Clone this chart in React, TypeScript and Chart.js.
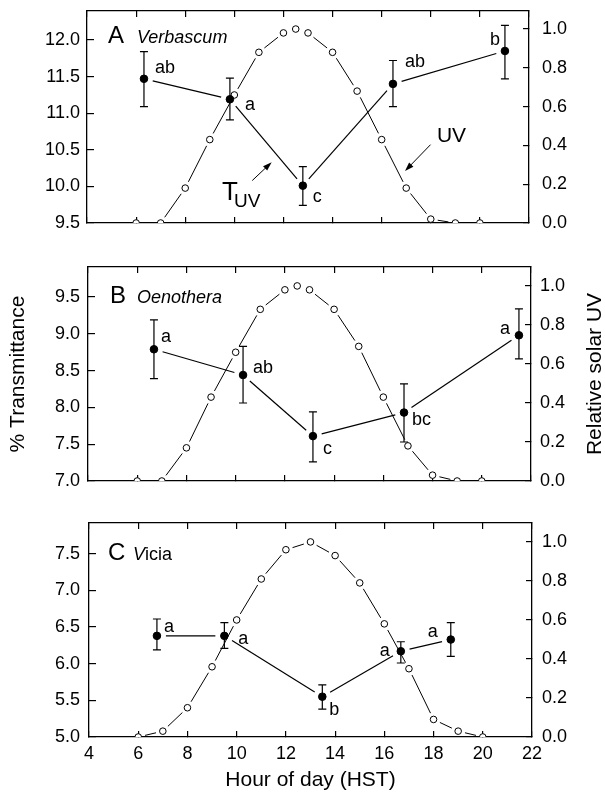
import React, { useEffect, useRef } from 'react';
import { Chart, registerables } from 'chart.js';

Chart.register(...registerables);

const FONT = "'Liberation Sans', Arial, Helvetica, sans-serif";

// ---------- tick labels ----------
const xTicks = [4, 6, 8, 10, 12, 14, 16, 18, 20, 22];
const uvTicks = [0, 0.2, 0.4, 0.6, 0.8, 1.0];
const yTicksA = [9.5, 10, 10.5, 11, 11.5, 12];
const yTicksB = [7, 7.5, 8, 8.5, 9, 9.5];
const yTicksC = [5, 5.5, 6, 6.5, 7, 7.5];

// ---------- Panel A: Verbascum ----------
const uvHoursA = [6, 7, 8, 9, 10, 11, 12, 12.5, 13, 14, 15, 16, 17, 18, 19, 20];
const uvA = [0, 0, 0.18, 0.43, 0.66, 0.88, 0.98, 1.0, 0.98, 0.88, 0.68, 0.43, 0.18, 0.02, 0, 0];
const tHoursA = [6.32, 9.82, 12.79, 16.46, 21.02];
const tA = [11.47, 11.19, 10.01, 11.4, 11.85];
const tHiA = [11.84, 11.48, 10.27, 11.72, 12.2];
const tLoA = [11.09, 10.91, 9.74, 11.09, 11.47];
const lettersA = ['ab', 'a', 'c', 'ab', 'b'];

// ---------- Panel B: Oenothera ----------
const uvHoursB = [6, 7, 8, 9, 10, 11, 12, 12.5, 13, 14, 15, 16, 17, 18, 19, 20];
const uvB = [0, 0, 0.17, 0.43, 0.66, 0.88, 0.98, 1.0, 0.98, 0.88, 0.69, 0.43, 0.18, 0.03, 0, 0];
const tHoursB = [6.68, 10.3, 13.14, 16.84, 21.51];
const tB = [8.79, 8.44, 7.61, 7.93, 8.98];
const tHiB = [9.19, 8.83, 7.94, 8.32, 9.34];
const tLoB = [8.39, 8.06, 7.26, 7.53, 8.66];
const lettersB = ['a', 'ab', 'c', 'bc', 'a'];

// ---------- Panel C: Vicia ----------
const uvHoursC = [6, 7, 8, 9, 10, 11, 12, 13, 14, 15, 16, 17, 18, 19, 20];
const uvC = [0, 0.03, 0.15, 0.36, 0.6, 0.81, 0.96, 1.0, 0.93, 0.79, 0.58, 0.35, 0.09, 0.03, 0];
const tHoursC = [6.76, 9.5, 13.48, 16.67, 18.7];
const tC = [6.38, 6.38, 5.55, 6.17, 6.33];
const tHiC = [6.61, 6.56, 5.71, 6.3, 6.56];
const tLoC = [6.19, 6.21, 5.38, 6.01, 6.1];
const lettersC = ['a', 'a', 'b', 'a', 'a'];

type Align = 'left' | 'right';

interface PanelCfg {
  canvasTop: number;
  canvasH: number;
  area: { left: number; right: number; top: number; bottom: number };
  yMin: number;
  yMax: number;
  y2Max: number;
  yTicks: number[];
  uvHours: number[];
  uv: number[];
  tHours: number[];
  t: number[];
  tHi: number[];
  tLo: number[];
  letters: string[];
  letterPos: [number, number, Align][];
  panelLetter: string;
  species: { text: string; italic: boolean }[];
  letterX: number;
  speciesX: number;
  baseline: number;
  leftPad: number;
  rightPad: number;
  showXLabels: boolean;
  showYTitle: boolean;
  showY2Title: boolean;
  annotA?: boolean;
}

const panels: PanelCfg[] = [
  {
    canvasTop: 0,
    canvasH: 255,
    area: { left: 87, right: 529, top: 11, bottom: 223 },
    yMin: 9.5,
    yMax: 12.396,
    y2Max: 1.093,
    yTicks: yTicksA,
    uvHours: uvHoursA,
    uv: uvA,
    tHours: tHoursA,
    t: tA,
    tHi: tHiA,
    tLo: tLoA,
    letters: lettersA,
    letterPos: [
      [11, -6, 'left'],
      [15, 11, 'left'],
      [10, 16, 'left'],
      [12, -17, 'left'],
      [-5, -6, 'right'],
    ],
    panelLetter: 'A',
    species: [{ text: 'Verbascum', italic: true }],
    letterX: 21,
    speciesX: 50,
    baseline: 32,
    leftPad: 14,
    rightPad: 19,
    showXLabels: false,
    showYTitle: false,
    showY2Title: false,
    annotA: true,
  },
  {
    canvasTop: 255,
    canvasH: 255,
    area: { left: 88, right: 531, top: 12, bottom: 226 },
    yMin: 7.0,
    yMax: 9.908,
    y2Max: 1.097,
    yTicks: yTicksB,
    uvHours: uvHoursB,
    uv: uvB,
    tHours: tHoursB,
    t: tB,
    tHi: tHiB,
    tLo: tLoB,
    letters: lettersB,
    letterPos: [
      [7, -7, 'left'],
      [10, -2, 'left'],
      [10, 18, 'left'],
      [8, 12, 'left'],
      [-9, -1, 'right'],
    ],
    panelLetter: 'B',
    species: [{ text: 'Oenothera', italic: true }],
    letterX: 22,
    speciesX: 49,
    baseline: 36,
    leftPad: 15,
    rightPad: 15,
    showXLabels: false,
    showYTitle: true,
    showY2Title: true,
  },
  {
    canvasTop: 510,
    canvasH: 287,
    area: { left: 89, right: 532, top: 13, bottom: 227 },
    yMin: 5.0,
    yMax: 7.92,
    y2Max: 1.097,
    yTicks: yTicksC,
    uvHours: uvHoursC,
    uv: uvC,
    tHours: tHoursC,
    t: tC,
    tHi: tHiC,
    tLo: tLoC,
    letters: lettersC,
    letterPos: [
      [7, -4, 'left'],
      [14, 8, 'left'],
      [7, 18, 'left'],
      [-11, 5, 'right'],
      [-13, -3, 'right'],
    ],
    panelLetter: 'C',
    species: [
      { text: 'V', italic: true },
      { text: 'icia', italic: false },
    ],
    letterX: 19,
    speciesX: 44,
    baseline: 37,
    leftPad: 16,
    rightPad: 16,
    showXLabels: true,
    showYTitle: false,
    showY2Title: false,
  },
];

// annotation positions for panel A (in hour / % transmittance units)
const tuvLabelPos = { x: 9.5, y: 9.81 };
const uvLabelPos = { x: 18.25, y: 10.61 };
const arrowsA = [
  [10.73, 10.08, 11.52, 10.33],
  [17.99, 10.57, 16.95, 10.21],
];

const gapSegment = (gap: number) => ({
  borderDash: (ctx: any) => {
    const L = Math.hypot(ctx.p1.x - ctx.p0.x, ctx.p1.y - ctx.p0.y);
    return [Math.max(L - 2 * gap, 0) + ctx.p0DataIndex * 1e-3, 3 * L + 20];
  },
  borderDashOffset: -gap,
});

function makeDecor(cfg: PanelCfg) {
  return {
    id: 'decor',
    afterDatasetsDraw(chart: any) {
      const { ctx, chartArea: ca, scales } = chart;
      const xs = scales.x;
      const ys = scales.y;
      ctx.save();
      ctx.strokeStyle = '#000';
      ctx.fillStyle = '#000';
      ctx.lineWidth = 1.2;
      ctx.setLineDash([]);
      // error bars
      cfg.tHours.forEach((h, i) => {
        const px = xs.getPixelForValue(h);
        const hi = ys.getPixelForValue(cfg.tHi[i]);
        const lo = ys.getPixelForValue(cfg.tLo[i]);
        ctx.beginPath();
        ctx.moveTo(px, hi);
        ctx.lineTo(px, lo);
        ctx.moveTo(px - 4, hi);
        ctx.lineTo(px + 4, hi);
        ctx.moveTo(px - 4, lo);
        ctx.lineTo(px + 4, lo);
        ctx.stroke();
      });
      // significance letters
      ctx.font = `18px ${FONT}`;
      ctx.textBaseline = 'alphabetic';
      cfg.letters.forEach((s, i) => {
        const [dx, dy, al] = cfg.letterPos[i];
        ctx.textAlign = al;
        ctx.fillText(s, xs.getPixelForValue(cfg.tHours[i]) + dx, ys.getPixelForValue(cfg.t[i]) + dy);
      });
      // panel letter + species
      ctx.textAlign = 'left';
      ctx.font = `24px ${FONT}`;
      ctx.fillText(cfg.panelLetter, ca.left + cfg.letterX, ca.top + cfg.baseline);
      let sx = ca.left + cfg.speciesX;
      cfg.species.forEach((p) => {
        ctx.font = `${p.italic ? 'italic ' : ''}18px ${FONT}`;
        ctx.fillText(p.text, sx, ca.top + cfg.baseline);
        sx += ctx.measureText(p.text).width;
      });
      if (cfg.annotA) {
        const tx = xs.getPixelForValue(tuvLabelPos.x);
        const ty = ys.getPixelForValue(tuvLabelPos.y);
        ctx.font = `26px ${FONT}`;
        ctx.fillText('T', tx, ty);
        ctx.font = `19px ${FONT}`;
        ctx.fillText('UV', tx + 12, ty + 7);
        ctx.font = `21px ${FONT}`;
        ctx.fillText('UV', xs.getPixelForValue(uvLabelPos.x), ys.getPixelForValue(uvLabelPos.y));
        arrowsA.forEach(([x0, y0, x1, y1]) => {
          const ax = xs.getPixelForValue(x0);
          const ay = ys.getPixelForValue(y0);
          const bx = xs.getPixelForValue(x1);
          const by = ys.getPixelForValue(y1);
          const ang = Math.atan2(by - ay, bx - ax);
          ctx.lineWidth = 1;
          ctx.beginPath();
          ctx.moveTo(ax, ay);
          ctx.lineTo(bx - 6 * Math.cos(ang), by - 6 * Math.sin(ang));
          ctx.stroke();
          ctx.beginPath();
          ctx.moveTo(bx, by);
          ctx.lineTo(bx - 9 * Math.cos(ang) + 3 * Math.sin(ang), by - 9 * Math.sin(ang) - 3 * Math.cos(ang));
          ctx.lineTo(bx - 9 * Math.cos(ang) - 3 * Math.sin(ang), by - 9 * Math.sin(ang) + 3 * Math.cos(ang));
          ctx.closePath();
          ctx.fill();
        });
      }
      ctx.restore();
    },
    afterDraw(chart: any) {
      if (!cfg.showY2Title) return;
      const { ctx, chartArea: ca } = chart;
      ctx.save();
      ctx.translate(595, (ca.top + ca.bottom) / 2);
      ctx.rotate(-Math.PI / 2);
      ctx.fillStyle = '#000';
      ctx.font = `21px ${FONT}`;
      ctx.textAlign = 'center';
      ctx.textBaseline = 'middle';
      ctx.fillText('Relative solar UV', 0, 0);
      ctx.restore();
    },
  };
}

const zeroPad = (s: any) => {
  s.paddingTop = 0;
  s.paddingBottom = 0;
  s.paddingLeft = 0;
  s.paddingRight = 0;
};

function buildChart(canvas: HTMLCanvasElement, cfg: PanelCfg) {
  const W = 605;
  const a = cfg.area;
  const tickFont = { family: FONT, size: 18 };
  const gridCommon = {
    display: true,
    drawOnChartArea: false,
    drawTicks: true,
    color: '#000',
    lineWidth: 1.2,
  };
  const border = { display: true, color: '#000', width: 1.3 };
  const setTicks = (arr: number[]) => (s: any) => {
    s.ticks = arr.map((v) => ({ value: v }));
  };
  return new Chart(canvas, {
    type: 'line',
    data: {
      datasets: [
        {
          label: '% Transmittance',
          data: cfg.tHours.map((x, i) => ({ x, y: cfg.t[i] })),
          xAxisID: 'x',
          yAxisID: 'y',
          order: 0,
          borderColor: '#000',
          borderWidth: 1.2,
          pointRadius: 3.8,
          pointBackgroundColor: '#000',
          pointBorderColor: '#000',
          pointBorderWidth: 1,
          tension: 0,
          fill: false,
          segment: gapSegment(9),
        } as any,
        {
          label: 'Relative solar UV',
          data: cfg.uvHours.map((x, i) => ({ x, y: cfg.uv[i] })),
          xAxisID: 'x',
          yAxisID: 'y2',
          order: 1,
          borderColor: '#000',
          borderWidth: 1,
          pointRadius: 3.3,
          pointBackgroundColor: '#fff',
          pointBorderColor: '#000',
          pointBorderWidth: 1,
          tension: 0,
          fill: false,
          segment: gapSegment(7),
        } as any,
      ],
    },
    options: {
      responsive: false,
      animation: false,
      events: [],
      layout: { padding: 0, autoPadding: false },
      plugins: { legend: { display: false }, tooltip: { enabled: false } },
      scales: {
        x: {
          type: 'linear',
          position: 'bottom',
          min: 4,
          max: 22,
          afterBuildTicks: setTicks(xTicks),
          afterFit: (s: any) => {
            s.height = cfg.canvasH - a.bottom;
            zeroPad(s);
          },
          grid: { ...gridCommon, tickLength: -6 },
          border,
          ticks: {
            display: cfg.showXLabels,
            padding: 12,
            font: tickFont,
            color: '#000',
            maxRotation: 0,
            autoSkip: false,
            callback: (v: any) => String(v),
          },
          title: {
            display: cfg.showXLabels,
            text: 'Hour of day (HST)',
            color: '#000',
            font: { family: FONT, size: 21 },
            padding: { top: 0, bottom: 4 },
          },
        },
        x2: {
          type: 'linear',
          position: 'top',
          axis: 'x',
          min: 4,
          max: 22,
          afterBuildTicks: setTicks(xTicks),
          afterFit: (s: any) => {
            s.height = a.top;
            zeroPad(s);
          },
          grid: { ...gridCommon, tickLength: -6 },
          border,
          ticks: { display: false },
        },
        y: {
          type: 'linear',
          position: 'left',
          min: cfg.yMin,
          max: cfg.yMax,
          afterBuildTicks: setTicks(cfg.yTicks),
          afterFit: (s: any) => {
            s.width = a.left;
            zeroPad(s);
          },
          grid: { ...gridCommon, tickLength: -7 },
          border,
          ticks: {
            padding: cfg.leftPad,
            font: tickFont,
            color: '#000',
            autoSkip: false,
            callback: (v: any) => Number(v).toFixed(1),
          },
          title: {
            display: cfg.showYTitle,
            text: '% Transmittance',
            color: '#000',
            font: { family: FONT, size: 21 },
            padding: { top: 6, bottom: 0 },
          },
        },
        y2: {
          type: 'linear',
          position: 'right',
          min: 0,
          max: cfg.y2Max,
          afterBuildTicks: setTicks(uvTicks),
          afterFit: (s: any) => {
            s.width = W - a.right;
            zeroPad(s);
          },
          grid: { ...gridCommon, tickLength: -6 },
          border,
          ticks: {
            padding: cfg.rightPad,
            font: tickFont,
            color: '#000',
            autoSkip: false,
            callback: (v: any) => Number(v).toFixed(1),
          },
        },
      },
    } as any,
    plugins: [makeDecor(cfg)],
  });
}

function Panel({ cfg }: { cfg: PanelCfg }) {
  const ref = useRef<HTMLCanvasElement>(null);
  useEffect(() => {
    if (!ref.current) return;
    const chart = buildChart(ref.current, cfg);
    return () => chart.destroy();
  }, [cfg]);
  return (
    <canvas
      ref={ref}
      width={605}
      height={cfg.canvasH}
      style={{ position: 'absolute', left: 0, top: cfg.canvasTop, width: 605, height: cfg.canvasH }}
    />
  );
}

export default function App() {
  return (
    <div
      style={{
        position: 'absolute',
        left: 0,
        top: 0,
        width: 605,
        height: 797,
        background: '#fff',
        overflow: 'hidden',
      }}
    >
      {panels.map((p, i) => (
        <Panel key={i} cfg={p} />
      ))}
    </div>
  );
}
